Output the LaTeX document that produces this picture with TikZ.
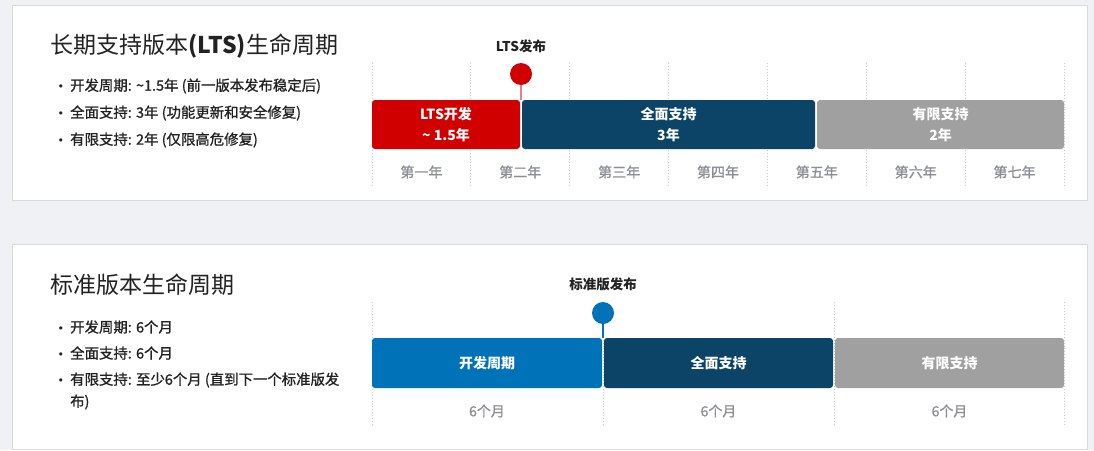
\documentclass[tikz,border=0pt]{standalone}
\usepackage{fontspec}
\setmainfont{Noto Sans CJK SC}
\newfontfamily\medfont[FakeBold=1]{Noto Sans CJK SC}
\newfontfamily\bulfont{DejaVu Sans}
\definecolor{bgc}{HTML}{F0F1F4}
\definecolor{cardline}{HTML}{D9DADC}
\definecolor{ltsred}{HTML}{D10000}
\definecolor{ltsline}{HTML}{E88080}
\definecolor{navy}{HTML}{0B4466}
\definecolor{greybar}{HTML}{A0A0A0}
\definecolor{stdblue}{HTML}{0072B8}
\definecolor{lab}{HTML}{8C8F94}
\definecolor{ink}{HTML}{222222}
\definecolor{grid}{HTML}{C9CACC}
\newcommand{\bul}{\llap{{\bulfont\fontsize{11}{13}\selectfont •}\hspace{6pt}}}
\tikzset{
  card/.style={draw=cardline, fill=white, line width=0.8pt},
  title/.style={anchor=west, inner sep=0, text=ink, font=\fontsize{23}{28}\selectfont},
  bitem/.style={anchor=west, inner sep=0, text=ink, font=\medfont\fontsize{14.4}{17}\selectfont},
  bar/.style={rounded corners=3pt, inner sep=0, text=white, align=center,
    font=\bfseries\fontsize{14}{21}\selectfont},
  gridline/.style={draw=grid, dotted, line width=0.9pt},
  ylab/.style={inner sep=0, text=lab, font=\medfont\fontsize{14}{17}\selectfont},
  mlab/.style={inner sep=0, text=ink, font=\bfseries\fontsize{13.5}{16}\selectfont},
  marker/.style={circle, inner sep=0, minimum size=22pt}
}
\begin{document}
\begin{tikzpicture}[x=1pt,y=-1pt]
\path[fill=bgc] (0,0) rectangle (1094,450);
\useasboundingbox (0,0) rectangle (1094,450);
% ---------- top card ----------
\path[card] (12,5) rectangle (1087,200);
\node[title] (t1) at (50,46) {长期支持版本\textbf{(LTS)}生命周期};
\node[bitem] (b11) at (70,86) {\bul 开发周期: \textasciitilde1.5年 (前一版本发布稳定后)};
\node[bitem] (b12) at (70,113) {\bul 全面支持: 3年 (功能更新和安全修复)};
\node[bitem] (b13) at (70,140) {\bul 有限支持: 2年 (仅限高危修复)};
\foreach \i in {0,...,7}{
  \draw[gridline] ({372+\i*98.857},63) -- ({372+\i*98.857},185);
}
\node[bar, fill=ltsred, minimum width=148pt, minimum height=49pt] (dev1) at (446,124.5) {LTS开发\\\textasciitilde\ 1.5年};
\node[bar, fill=navy, minimum width=293pt, minimum height=49pt] (full1) at (668.5,124.5) {全面支持\\3年};
\node[bar, fill=greybar, minimum width=247pt, minimum height=49pt] (lim1) at (940.5,124.5) {有限支持\\2年};
\node[marker, fill=ltsred] (m1) at (521,74) {};
\draw[ltsline, line width=2pt] (m1.south) -- (m1 |- dev1.north);
\node[mlab] (ml1) at (521,46) {LTS发布};
\foreach \t [count=\i from 0] in {第一年,第二年,第三年,第四年,第五年,第六年,第七年}{
  \node[ylab] (y\i) at ({372+49.43+\i*98.857},172) {\t};
}
% ---------- bottom card ----------
\path[card] (12,244) rectangle (1087,449);
\node[title] (t2) at (50,285) {标准版本生命周期};
\node[bitem] (b21) at (70,327) {\bul 开发周期: 6个月};
\node[bitem] (b22) at (70,353) {\bul 全面支持: 6个月};
\node[bitem] (b23) at (70,380) {\bul 有限支持: 至少6个月 (直到下一个标准版发};
\node[bitem] (b24) at (70,402) {布)};
\foreach \x in {372,603,834,1064}{
  \draw[gridline] (\x,302) -- (\x,425);
}
\node[bar, fill=stdblue, minimum width=230pt, minimum height=50pt] (dev2) at (487,363) {开发周期};
\node[bar, fill=navy, minimum width=229pt, minimum height=50pt] (full2) at (718.5,363) {全面支持};
\node[bar, fill=greybar, minimum width=229pt, minimum height=50pt] (lim2) at (949.5,363) {有限支持};
\node[marker, fill=stdblue] (m2) at (603,313) {};
\draw[stdblue, line width=2pt] (m2.south) -- (m2 |- dev2.north);
\node[mlab] (ml2) at (603,284) {标准版发布};
\node[ylab] (s1) at (487,411) {6个月};
\node[ylab] (s2) at (718.5,411) {6个月};
\node[ylab] (s3) at (949.5,411) {6个月};
\end{tikzpicture}
\end{document}
